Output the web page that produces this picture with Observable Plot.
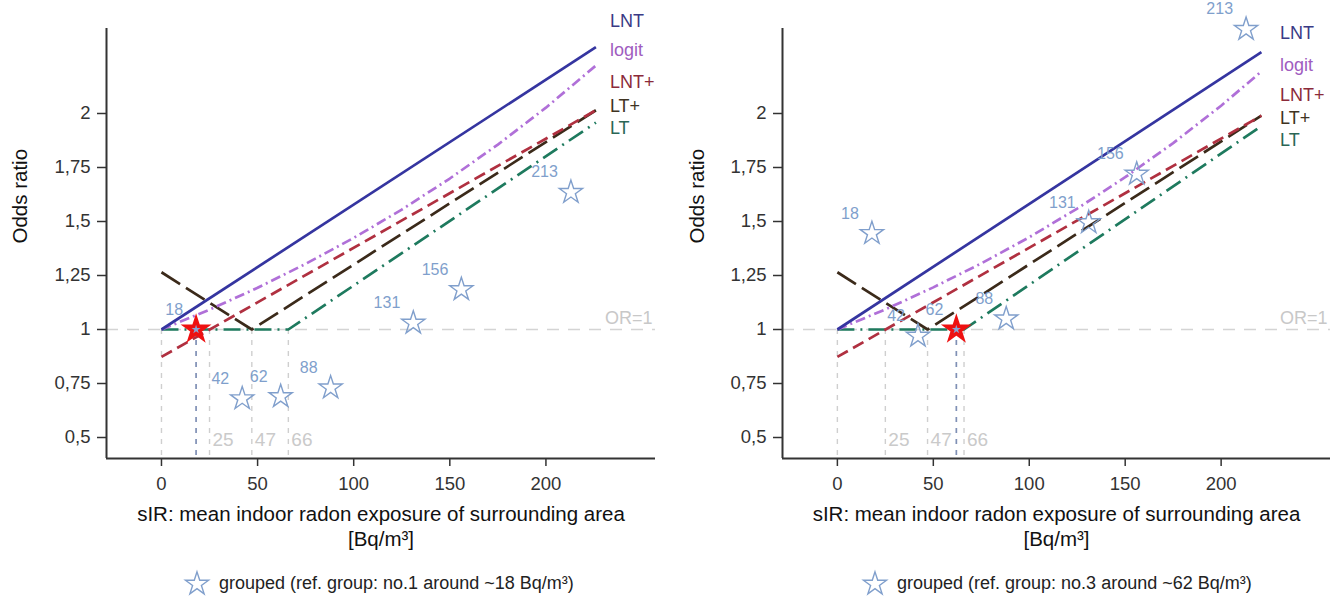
<!DOCTYPE html>
<html><head><meta charset="utf-8">
<script src="https://cdn.jsdelivr.net/npm/d3@7"></script>
<script src="https://cdn.jsdelivr.net/npm/@observablehq/plot@0.6"></script>
<style>
body{margin:0;background:#fff;font-family:"Liberation Sans",Arial,sans-serif;}
#wrap{position:relative;width:1338px;height:597px;overflow:hidden;}
.panel{position:absolute;top:0;width:669px;height:597px;}
.legend{position:absolute;top:566px;height:34px;display:flex;align-items:center;font-size:18px;color:#222;white-space:nowrap;}
.legend svg{margin-right:8px;}
</style></head><body><div id="wrap"></div>
<script>
// ---------- data ----------
const xTicks = [0, 50, 100, 150, 200];
const yTicks = [0.5, 0.75, 1, 1.25, 1.5, 1.75, 2];
const modelNames = ["LNT", "logit", "LNT+", "LT+", "LT"];
const thresholds = [0, 25, 47, 66];
const thresholdLabels = [25, 47, 66];
const groupLabels = ["18", "42", "62", "88", "131", "156", "213"];
const groupX = [18, 42, 62, 88, 131, 156, 213];
const groupOR_left = [1.0, 0.68, 0.69, 0.73, 1.03, 1.185, 1.635];
const groupOR_right = [1.445, 0.97, 1.0, 1.05, 1.495, 1.72, 2.39];
const refGroupLeft = 18, refGroupRight = 62;
const legendTextLeft = "grouped (ref. group: no.1 around ~18 Bq/m³)";
const legendTextRight = "grouped (ref. group: no.3 around ~62 Bq/m³)";

// model curves
const lntX_L = [0, 226], lntY_L = [1, 2.307];
const logitX_L = [0, 25, 50, 75, 100, 125, 150, 175, 200, 226];
const logitY_L = [1, 1.092, 1.193, 1.304, 1.424, 1.555, 1.699, 1.856, 2.027, 2.222];
const lntPlusX_L = [0, 226], lntPlusY_L = [0.873, 2.015];
const ltPlusX_L = [0, 47, 226], ltPlusY_L = [1.265, 1.0, 2.015];
const ltX_L = [0, 66, 226], ltY_L = [1, 1, 1.958];

const lntX_R = [0, 221], lntY_R = [1, 2.284];
const logitX_R = [0, 25, 50, 75, 100, 125, 150, 175, 200, 220];
const logitY_R = [1, 1.093, 1.195, 1.306, 1.427, 1.560, 1.705, 1.863, 2.036, 2.187];
const lntPlusX_R = [0, 221], lntPlusY_R = [0.873, 1.99];
const ltPlusX_R = [0, 47, 221], ltPlusY_R = [1.265, 1.0, 1.99];
const ltX_R = [0, 66, 219], ltY_R = [1, 1, 1.93];

// ---------- styles ----------
const lineStyle = {
  "LNT":  {stroke: "#3535a0", dash: null},
  "logit":{stroke: "#b070d8", dash: "10,4,2,4"},
  "LNT+": {stroke: "#b03040", dash: "12,6"},
  "LT+":  {stroke: "#3b2a1a", dash: "22,7"},
  "LT":   {stroke: "#1e7a5e", dash: "17,6,2,6"}
};
const labelColor = {"LNT": "#3a3a85", "logit": "#a05cc0", "LNT+": "#8b2a3a", "LT+": "#3f3322", "LT": "#2a6655"};
const font = "Liberation Sans, Arial, sans-serif";
const starColor = "#809fcc";
const xDomain = [-28.6, 257];
const yDomain = [0.4028, 2.3935];
const fmt = d => String(d).replace(".", ",");

function makePanel(cfg) {
  const curves = [
    ["LT", cfg.lt], ["LT+", cfg.ltPlus], ["LNT+", cfg.lntPlus], ["logit", cfg.logit], ["LNT", cfg.lnt]
  ];
  const groups = groupX.map((x, i) => ({x, y: cfg.or[i], label: groupLabels[i]}));
  const hollow = groups.filter(g => g.x !== cfg.ref);
  const ref = groups.filter(g => g.x === cfg.ref);
  const marks = [
    Plot.ruleY([1], {stroke: "#d4d4d4", strokeWidth: 1.6, strokeDasharray: "12,9"}),
    Plot.ruleX(thresholds, {x: d => d, y1: 1, y2: yDomain[0], stroke: "#cfcfcf", strokeWidth: 1.4, strokeDasharray: "5,6"}),
    Plot.ruleX([cfg.ref], {x: d => d, y1: 1, y2: yDomain[0], stroke: "#7f90b5", strokeWidth: 1.7, strokeDasharray: "5,6"}),
    Plot.text(thresholdLabels, {x: d => d, frameAnchor: "bottom", dy: -13, dx: 3, textAnchor: "start", text: d => String(d), fontSize: 19, fill: "#cacaca"}),
    Plot.text(["OR=1"], {x: () => 255.5, y: () => 1, dy: -11, textAnchor: "end", text: d => d, fontSize: 18, fill: "#c8c8c8"}),
    ...curves.map(([name, [xs, ys]]) => Plot.line(d3.zip(xs, ys), {
      x: d => d[0], y: d => d[1], stroke: lineStyle[name].stroke, strokeWidth: 2.7,
      strokeDasharray: lineStyle[name].dash, strokeLinecap: "butt", curve: "linear"
    })),
    Plot.dot(hollow, {x: "x", y: "y", symbol: "star", r: 7.3, stroke: starColor, strokeWidth: 1.4, fill: "none"}),
    Plot.dot(ref, {x: "x", y: "y", symbol: "star", r: 7.6, stroke: "#ee1111", strokeWidth: 2.2, fill: "#ee1111"}),
    Plot.dot(ref, {x: "x", y: "y", symbol: "star", r: 2.8, fill: "#88a4d4", stroke: "none"}),
    Plot.text(groups, {x: "x", y: "y", text: "label", textAnchor: "end", dx: -13, dy: -20, fontSize: 16, fill: "#7f9fcc"}),
    Plot.text(modelNames, {x: () => cfg.labelX, y: (d, i) => cfg.labelY[i], text: d => d, textAnchor: "start", fontSize: 18, fill: d => labelColor[d]}),
    Plot.ruleY([yDomain[0]], {stroke: "#333", strokeWidth: 2}),
    Plot.ruleX([xDomain[0]], {stroke: "#333", strokeWidth: 2}),
    Plot.axisX({ticks: xTicks, tickSize: 8, tickPadding: 10, fontSize: 18.5, color: "#333", strokeWidth: 1.5, label: null}),
    Plot.axisY({ticks: yTicks, tickSize: 9, tickPadding: 7, tickFormat: fmt, fontSize: 18.5, color: "#333", strokeWidth: 1.5, label: null}),
    Plot.text(["sIR: mean indoor radon exposure of surrounding area"], {frameAnchor: "bottom", dy: 62, text: d => d, fontSize: 20.5, fill: "#111"}),
    Plot.text(["[Bq/m³]"], {frameAnchor: "bottom", dy: 87, text: d => d, fontSize: 20.5, fill: "#111"}),
    Plot.text(["Odds ratio"], {frameAnchor: "left", dx: cfg.yLabelDx, rotate: -90, text: d => d, fontSize: 20.5, fill: "#111"})
  ];
  return Plot.plot({
    width: 669, height: 560,
    marginLeft: cfg.marginLeft, marginRight: cfg.marginRight, marginTop: 28, marginBottom: 102,
    x: {domain: xDomain, axis: null},
    y: {domain: yDomain, axis: null},
    style: {background: "white", fontFamily: font, overflow: "visible"},
    marks
  });
}

function legendStar() {
  const ns = "http://www.w3.org/2000/svg";
  const svg = document.createElementNS(ns, "svg");
  svg.setAttribute("width", 28); svg.setAttribute("height", 28);
  const p = document.createElementNS(ns, "path");
  p.setAttribute("d", d3.symbol(d3.symbolStar, 165)());
  p.setAttribute("transform", "translate(14,15)");
  p.setAttribute("fill", "none"); p.setAttribute("stroke", starColor); p.setAttribute("stroke-width", 1.4);
  svg.appendChild(p);
  return svg;
}

const wrap = document.getElementById("wrap");
const panels = [
  {left: 0, marginLeft: 106, marginRight: 14, yLabelDx: -86, ref: refGroupLeft, or: groupOR_left,
   lnt: [lntX_L, lntY_L], logit: [logitX_L, logitY_L], lntPlus: [lntPlusX_L, lntPlusY_L], ltPlus: [ltPlusX_L, ltPlusY_L], lt: [ltX_L, ltY_L],
   labelX: 233.3, labelY: [2.426, 2.292, 2.144, 2.032, 1.93], legend: legendTextLeft, legendLeft: 183},
  {left: 669, marginLeft: 113, marginRight: 8, yLabelDx: -85, ref: refGroupRight, or: groupOR_right,
   lnt: [lntX_R, lntY_R], logit: [logitX_R, logitY_R], lntPlus: [lntPlusX_R, lntPlusY_R], ltPlus: [ltPlusX_R, ltPlusY_R], lt: [ltX_R, ltY_R],
   labelX: 230.7, labelY: [2.37, 2.222, 2.083, 1.977, 1.875], legend: legendTextRight, legendLeft: 192}
];
for (const cfg of panels) {
  const div = document.createElement("div");
  div.className = "panel";
  div.style.left = cfg.left + "px";
  div.appendChild(makePanel(cfg));
  const lg = document.createElement("div");
  lg.className = "legend";
  lg.style.left = cfg.legendLeft + "px";
  lg.appendChild(legendStar());
  const span = document.createElement("span");
  span.textContent = cfg.legend;
  lg.appendChild(span);
  div.appendChild(lg);
  wrap.appendChild(div);
}
</script></body></html>
